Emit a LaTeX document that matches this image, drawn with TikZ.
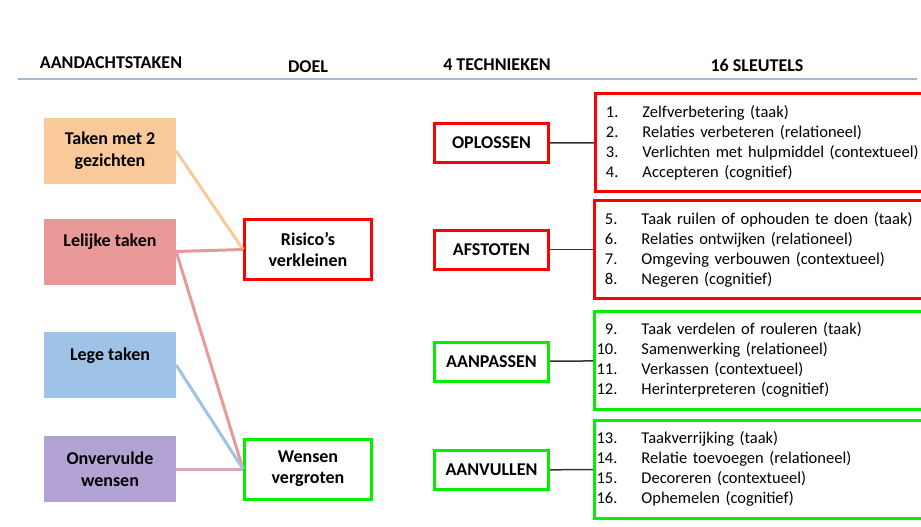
\documentclass[tikz,border=0pt]{standalone}
\usepackage{fontspec}
\setmainfont{Carlito}
\usetikzlibrary{positioning}
\definecolor{TP}{RGB}{249,201,154}
\definecolor{TR}{RGB}{233,154,152}
\definecolor{TB}{RGB}{159,195,230}
\definecolor{TV}{RGB}{179,162,212}
\definecolor{TL}{RGB}{218,166,190}
\definecolor{KR}{RGB}{255,0,0}
\definecolor{KG}{RGB}{0,240,0}
\definecolor{HL}{RGB}{167,185,209}
\definecolor{DG}{RGB}{51,51,51}
\newcommand{\sleutelnr}[1]{\makebox[17pt][r]{#1}\hspace{24pt}}

\begin{document}
\begin{tikzpicture}[x=1pt, y=-1pt,
  kop/.style={font=\fontsize{18}{20}\selectfont\bfseries},
  taak/.style={minimum width=132pt, minimum height=66pt, inner sep=0pt,
               align=center, font=\fontsize{18}{22}\selectfont\bfseries},
  doel/.style={draw, line width=3pt, fill=white, minimum width=127pt,
               minimum height=60pt, align=center,
               font=\fontsize{18}{21}\selectfont\bfseries},
  tech/.style={draw, line width=3pt, minimum width=114pt, minimum height=39pt,
               font=\fontsize{18}{20}\selectfont\bfseries},
  sleutel/.style={draw, line width=3pt, anchor=west, minimum height=98pt,
                  text width=330pt, inner xsep=6pt, align=left,
                  font=\fontsize{16.5}{20}\selectfont},
  link/.style={line width=3pt},
  stem/.style={draw=DG, line width=1.5pt}
]
\useasboundingbox (0,0) rectangle (921,527);
\clip (0,0) rectangle (921,527);

\node[kop] (k1) at (111,63) {AANDACHTSTAKEN};
\node[kop] (k2) at (308,67) {DOEL};
\node[kop] (k3) at (497,65) {4 TECHNIEKEN};
\node[kop] (k4) at (757,65) {16 SLEUTELS};
\draw[HL, line width=2pt] (18,79) -- (917,79);

\node[taak, fill=TP] (dubbel) at (110,151) {Taken met 2\\gezichten};
\node[taak, fill=TR] (lelijk) at (110,251.5) {Lelijke taken\\~};
\node[taak, fill=TB] (leeg) at (110,365) {Lege taken\\~};
\node[taak, fill=TV] (onvervuld) at (110,469) {Onvervulde\\wensen};

\node[doel, draw=KR] (risico) at (308,249.5) {Risico’s\\verkleinen};
\node[doel, draw=KG] (wensen) at (308,469) {Wensen\\vergroten};

\draw[link, TP] (dubbel.east) -- (risico.west);
\draw[link, TR] (lelijk.east) -- (risico.west);
\draw[link, TR] (lelijk.east) -- (wensen.west);
\draw[link, TB] (leeg.east) -- (wensen.west);
\draw[link, TL] (onvervuld.east) -- (wensen.west);

\node[tech, draw=KR] (oplossen) at (491.5,143) {OPLOSSEN};
\node[tech, draw=KR] (afstoten) at (491.5,249.5) {AFSTOTEN};
\node[tech, draw=KG] (aanpassen) at (491.5,361.5) {AANPASSEN};
\node[tech, draw=KG] (aanvullen) at (491.5,470) {AANVULLEN};

\node[sleutel, draw=KR] (s1) at (594,142.5) {%
\sleutelnr{1.}Zelfverbetering (taak)\\
\sleutelnr{2.}Relaties verbeteren (relationeel)\\
\sleutelnr{3.}Verlichten met hulpmiddel (contextueel)\\
\sleutelnr{4.}Accepteren (cognitief)};
\node[sleutel, draw=KR] (s2) at (593,249.5) {%
\sleutelnr{5.}Taak ruilen of ophouden te doen (taak)\\
\sleutelnr{6.}Relaties ontwijken (relationeel)\\
\sleutelnr{7.}Omgeving verbouwen (contextueel)\\
\sleutelnr{8.}Negeren (cognitief)};
\node[sleutel, draw=KG] (s3) at (593,360) {%
\sleutelnr{9.}Taak verdelen of rouleren (taak)\\
\sleutelnr{10.}Samenwerking (relationeel)\\
\sleutelnr{11.}Verkassen (contextueel)\\
\sleutelnr{12.}Herinterpreteren (cognitief)};
\node[sleutel, draw=KG] (s4) at (593,469) {%
\sleutelnr{13.}Taakverrijking (taak)\\
\sleutelnr{14.}Relatie toevoegen (relationeel)\\
\sleutelnr{15.}Decoreren (contextueel)\\
\sleutelnr{16.}Ophemelen (cognitief)};

\draw[stem] (oplossen) -- (s1);
\draw[stem] (afstoten) -- (s2);
\draw[stem] (aanpassen) -- (s3);
\draw[stem] (aanvullen) -- (s4);
\end{tikzpicture}
\end{document}
